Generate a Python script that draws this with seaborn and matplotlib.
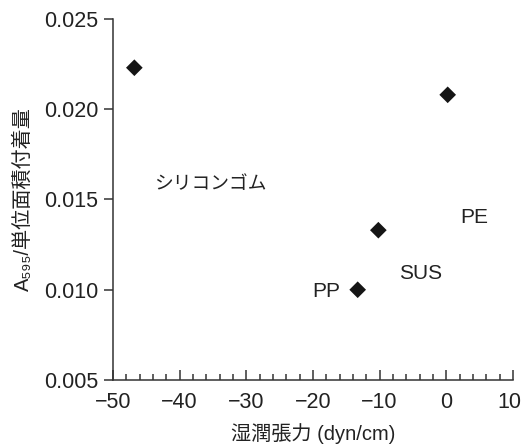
import matplotlib
matplotlib.use("Agg")
import matplotlib.pyplot as plt
from matplotlib.ticker import MultipleLocator, FuncFormatter
from matplotlib.transforms import ScaledTranslation
import seaborn as sns
import pandas as pd

# Wetting tension (dyn/cm) vs. A595 per unit area
materials = ["シリコンゴム", "PE", "SUS", "PP"]
wetting_tension = [-46.8, 0.2, -10.2, -13.3]
adhesion = [0.0223, 0.0208, 0.0133, 0.0100]

# label anchor positions (data coords)
label_x = [-35.4, 4.2, -3.8, -18.0]
label_y = [0.0158, 0.0140, 0.0109, 0.0099]
label_size = [13.5, 15, 15, 15]

x_ticks = [-50, -40, -30, -20, -10, 0, 10]
y_ticks = [0.005, 0.010, 0.015, 0.020, 0.025]

sns.set_style("ticks")
fam = ["Liberation Sans", "DejaVu Sans", "Noto Sans CJK JP"]
plt.rcParams["font.family"] = fam

ink = "#222222"
df = pd.DataFrame({"x": wetting_tension, "y": adhesion, "name": materials})

fig = plt.figure(figsize=(5.22, 4.47), dpi=100)
ax = fig.add_axes([0.2165, 0.1499, 0.7663, 0.8076])

sns.scatterplot(data=df, x="x", y="y", ax=ax, marker="D", s=72,
                color="#151515", edgecolor="none", zorder=3)

for name, lx, ly, fs in zip(materials, label_x, label_y, label_size):
    ax.text(lx, ly, name, ha="center", va="center", fontsize=fs,
            color=ink, family=fam)

ax.set_xlim(-50, 10)
ax.set_ylim(0.005, 0.025)
ax.set_xticks(x_ticks)
ax.set_yticks(y_ticks)
ax.xaxis.set_minor_locator(MultipleLocator(2))
ax.xaxis.set_major_formatter(FuncFormatter(lambda v, p: f"{int(v)}".replace("-", "\u2212")))
ax.yaxis.set_major_formatter(FuncFormatter(lambda v, p: f"{v:.3f}"))

for side in ("top", "right"):
    ax.spines[side].set_visible(False)
for side in ("left", "bottom"):
    ax.spines[side].set_color("#333333")
    ax.spines[side].set_linewidth(1.1)

ax.tick_params(axis="x", which="major", direction="in", length=7, width=1.1,
               color="#333333", labelsize=15.5, labelcolor=ink, pad=9)
ax.tick_params(axis="x", which="minor", direction="in", length=4.5, width=1.1,
               color="#333333")
ax.tick_params(axis="y", which="major", direction="out", length=6.5, width=1.1,
               color="#333333", labelsize=15.5, labelcolor=ink, pad=4)

# keep the rightmost x tick label inside the canvas
fig.canvas.draw()
last = ax.get_xticklabels()[-1]
last.set_transform(last.get_transform() + ScaledTranslation(-4 / 100, 0, fig.dpi_scale_trans))

ax.set_xlabel("湿潤張力 (dyn/cm)", fontsize=14.5, color=ink, labelpad=7, family=fam)
ax.set_ylabel("A\u2085\u2089\u2085/単位面積付着量", fontsize=14.5, color=ink,
              labelpad=8, family=fam)

fig.savefig("out.png", dpi=100)
